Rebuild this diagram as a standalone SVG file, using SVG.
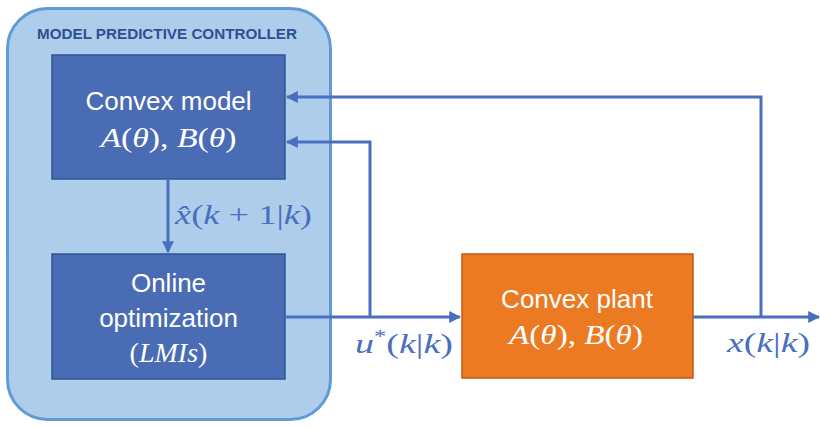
<svg xmlns="http://www.w3.org/2000/svg" width="820" height="428" viewBox="0 0 820 428">
  <style>
    .block { fill: #4a6cb5; stroke: #2f5597; stroke-width: 1.5; }
    .plant { fill: #eb7a23; stroke: #c55a11; stroke-width: 1.5; }
    .label { font-family: "Liberation Sans", Arial, sans-serif; font-size: 26px; fill: #ffffff; text-anchor: middle; }
    .math { font-family: "Liberation Serif", "DejaVu Serif", serif; font-size: 28px; }
    .math-w { fill: #ffffff; text-anchor: middle; }
    .math-b { fill: #4a6fbf; }
    .it { font-style: italic; }
    .wire { fill: none; stroke: #4a6fbf; stroke-width: 3; }
  </style>
  <defs>
    <marker id="arrow" viewBox="0 0 10 10" refX="9" refY="5" markerWidth="4" markerHeight="4" orient="auto" markerUnits="strokeWidth">
      <path d="M0,0 L10,5 L0,10 Z" fill="#4a6fbf"/>
    </marker>
  </defs>

  <!-- controller container -->
  <g id="controller">
    <rect x="7.5" y="8.5" width="323" height="411" rx="40" ry="40" fill="#aecdeb" stroke="#5f9bd6" stroke-width="3"/>
    <text x="167" y="39" font-family="Liberation Sans, Arial, sans-serif" font-size="14" font-weight="bold" fill="#2f4f93" text-anchor="middle" textLength="260" lengthAdjust="spacingAndGlyphs">MODEL PREDICTIVE CONTROLLER</text>
  </g>

  <g id="convex-model">
    <rect class="block" x="52" y="55" width="233" height="124"/>
    <text class="label" x="168.5" y="110">Convex model</text>
    <text class="math math-w" x="168.5" y="147" textLength="136" lengthAdjust="spacingAndGlyphs"><tspan class="it">A</tspan>(<tspan class="it">θ</tspan>), <tspan class="it">B</tspan>(<tspan class="it">θ</tspan>)</text>
  </g>

  <g id="online-optimization">
    <rect class="block" x="52" y="254" width="233" height="125"/>
    <text class="label" x="168.5" y="292">Online</text>
    <text class="label" x="168.5" y="327">optimization</text>
    <text class="math math-w" x="168.5" y="362"><tspan>(</tspan><tspan class="it">LMIs</tspan><tspan>)</tspan></text>
  </g>

  <g id="convex-plant">
    <rect class="plant" x="462" y="254" width="231" height="124"/>
    <text class="label" x="577" y="308">Convex plant</text>
    <text class="math math-w" x="576" y="344" textLength="134" lengthAdjust="spacingAndGlyphs"><tspan class="it">A</tspan>(<tspan class="it">θ</tspan>), <tspan class="it">B</tspan>(<tspan class="it">θ</tspan>)</text>
  </g>

  <g id="connectors">
    <!-- predicted state into optimizer -->
    <path class="wire" d="M168,179 V252" marker-end="url(#arrow)"/>
    <!-- control input to plant -->
    <path class="wire" d="M285,317 H460" marker-end="url(#arrow)"/>
    <!-- control input fed back to model -->
    <path class="wire" d="M370,317 V142 H287" marker-end="url(#arrow)"/>
    <!-- plant state output -->
    <path class="wire" d="M693,317 H819" marker-end="url(#arrow)"/>
    <!-- measured state fed back to model -->
    <path class="wire" d="M761,317 V97 H287" marker-end="url(#arrow)"/>
  </g>

  <g id="signal-labels">
    <text class="math math-b" x="175" y="224" textLength="137" lengthAdjust="spacingAndGlyphs"><tspan class="it">x̂</tspan>(<tspan class="it">k</tspan> + 1|<tspan class="it">k</tspan>)</text>
    <text class="math math-b" x="355" y="353" textLength="98" lengthAdjust="spacingAndGlyphs"><tspan class="it">u</tspan><tspan font-size="18" dy="-10">*</tspan><tspan dy="10">(</tspan><tspan class="it">k</tspan>|<tspan class="it">k</tspan>)</text>
    <text class="math math-b" x="727" y="352" textLength="83" lengthAdjust="spacingAndGlyphs"><tspan class="it">x</tspan>(<tspan class="it">k</tspan>|<tspan class="it">k</tspan>)</text>
  </g>
</svg>
